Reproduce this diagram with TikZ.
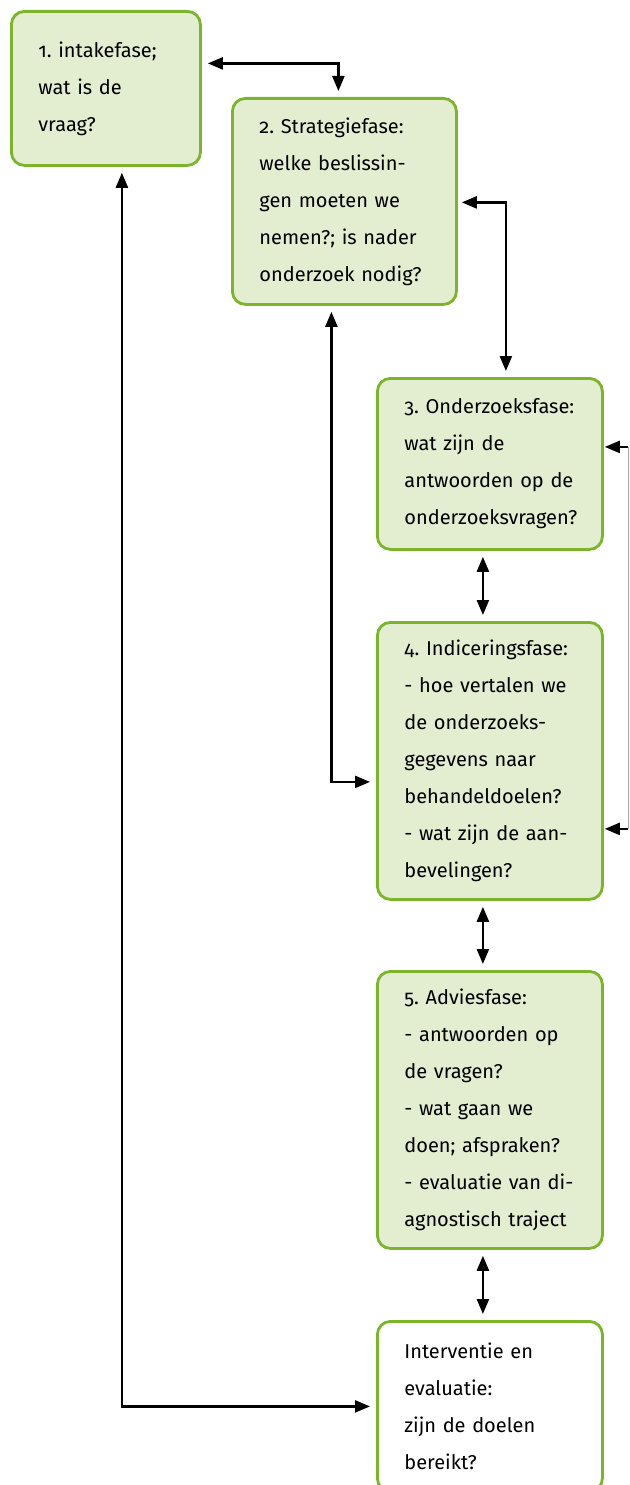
\documentclass[tikz,border=0pt]{standalone}
\usepackage{fontspec}
\setmainfont{Fira Sans}[Numbers=OldStyle]
\usetikzlibrary{arrows.meta,calc,positioning}
\definecolor{fasegreen}{RGB}{124,180,44}
\definecolor{fasefill}{RGB}{227,237,208}
\frenchspacing

\begin{document}
\begin{tikzpicture}[x=1pt,y=-1pt,>={Triangle[length=15pt,width=12pt]},
    fase/.style={draw=fasegreen,line width=2.8pt,fill=fasefill,rounded corners=13pt,
      anchor=north west,align=left,inner xsep=27pt,inner ysep=0pt,
      font=\fontsize{20}{37}\selectfont},
    link/.style={<->,line width=2.3pt,shorten <=6pt,shorten >=6pt}]
  \useasboundingbox (0,0) rectangle (629,1485);
  \node[fase,text width=135pt,minimum height=154pt] (b1) at (10,10)
     {1. intakefase;\\ wat is de\\ vraag?};
  \node[fase,text width=170pt,minimum height=206pt] (b2) at (231,97)
     {2. Strategiefase:\\ welke beslissin-\\ gen moeten we\\ nemen?; is nader\\ onderzoek nodig?};
  \node[fase,text width=171pt,minimum height=171pt] (b3) at (376,377)
     {3. Onderzoeksfase:\\ wat zijn de\\ antwoorden op de\\ onderzoeksvragen?};
  \node[fase,text width=171pt,minimum height=277pt] (b4) at (376,621)
     {4. Indiceringsfase:\\ - hoe vertalen we\\ de onderzoeks-\\ gegevens naar\\ behandeldoelen?\\ - wat zijn de aan-\\ bevelingen?};
  \node[fase,text width=171pt,minimum height=277pt] (b5) at (376,970)
     {5. Adviesfase:\\ - antwoorden op\\ de vragen?\\ - wat gaan we\\ doen; afspraken?\\ - evaluatie van di-\\ agnostisch traject};
  \node[fase,fill=white,text width=171pt,minimum height=170pt] (b6) at (376,1320)
     {Interventie en\\ evaluatie:\\ zijn de doelen\\ bereikt?};

  % connectors between the phases
  \draw[link] ([yshift=25pt]b1.east) -| ([xshift=-6pt]b2.north);
  \draw[link,shorten <=4pt] ([yshift=-1pt]b2.east) -| ([xshift=16pt]b3.north);
  \draw[link] ([xshift=-13pt]b2.south) |- ([yshift=-21pt]b4.west);
  \draw[link] ([xshift=16pt]b1.south) |- (b6.west);
  \foreach \from/\to in {b3/b4,b4/b5,b5/b6}
    \draw[link] ([xshift=-7pt]\from.south) -- ([xshift=-7pt]\to.north);
  % feedback from indicering to onderzoek
  \coordinate (r3) at ([yshift=17pt]b3.east -| 628,0);
  \coordinate (r4) at ([yshift=-68pt]b4.east -| 628,0);
  \draw[->,line width=2.3pt,shorten >=1pt] (r3) -- ([yshift=17pt]b3.east);
  \draw[->,line width=2.3pt,shorten >=1pt] (r4) -- ([yshift=-68pt]b4.east);
  \draw[black!35,line width=0.8pt] (r3) -- (r4);
\end{tikzpicture}
\end{document}
